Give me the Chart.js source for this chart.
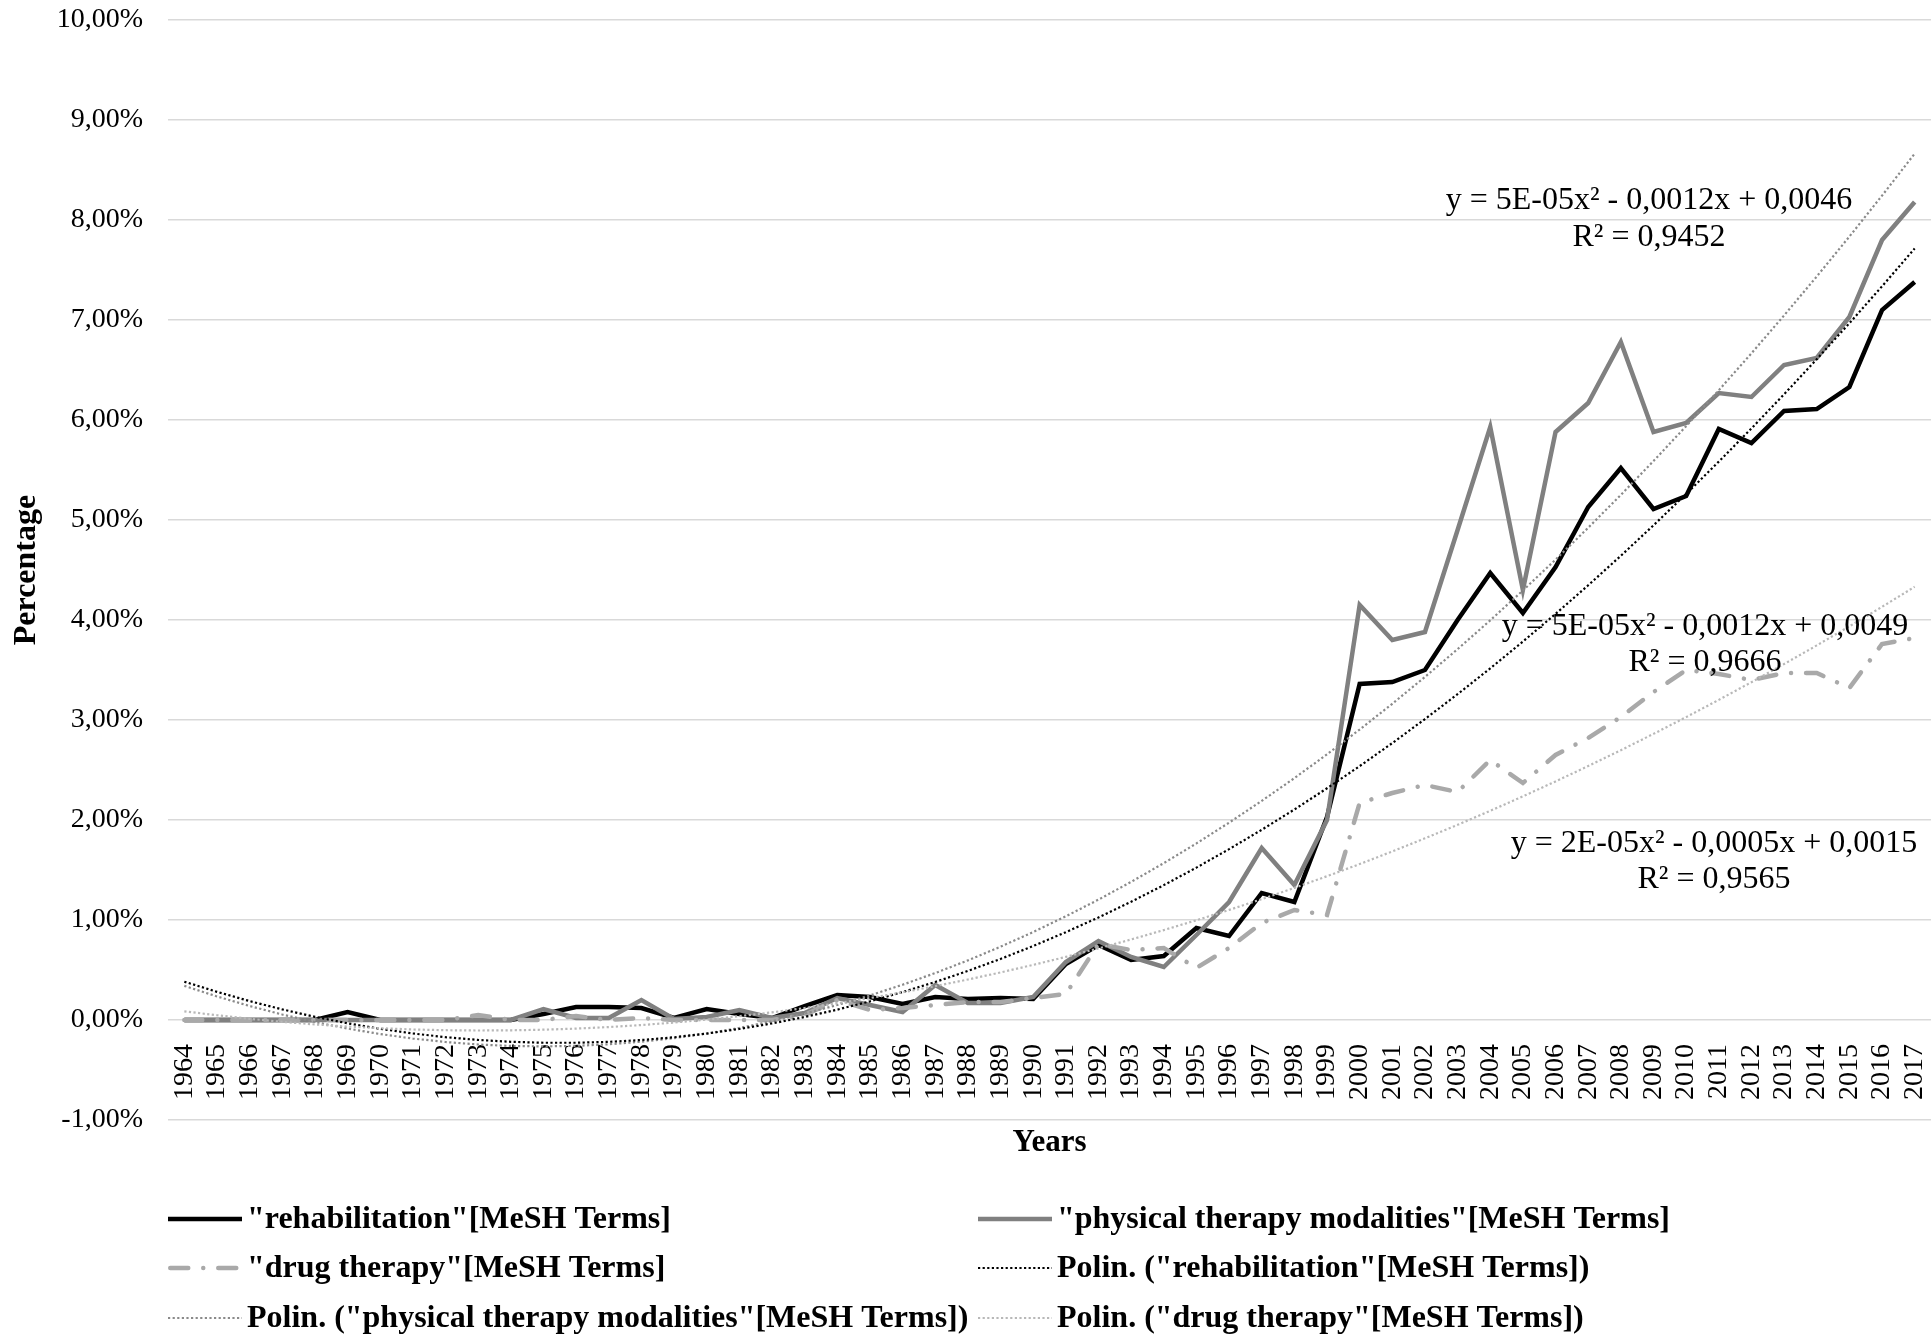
<!DOCTYPE html>
<html>
<head>
<meta charset="utf-8">
<title>MeSH Terms – percentage by year</title>
<script src="https://cdn.jsdelivr.net/npm/chart.js@4.4.1/dist/chart.umd.min.js"></script>
<style>
  html, body { margin: 0; padding: 0; background: #ffffff; }
  #wrap { width: 1931px; height: 1337px; }
</style>
</head>
<body>
<div id="wrap"><canvas id="chart" width="1931" height="1337"></canvas></div>
<script>
// ---- data (percent of publications per year) ----
const years = ['1964','1965','1966','1967','1968','1969','1970','1971','1972','1973',
  '1974','1975','1976','1977','1978','1979','1980','1981','1982','1983',
  '1984','1985','1986','1987','1988','1989','1990','1991','1992','1993',
  '1994','1995','1996','1997','1998','1999','2000','2001','2002','2003',
  '2004','2005','2006','2007','2008','2009','2010','2011','2012','2013',
  '2014','2015','2016','2017'];

const rehabilitation = [0, 0, 0, 0, 0, 0.08, 0, 0, 0, 0,
  0, 0.06, 0.13, 0.13, 0.12, 0.02, 0.11, 0.06, 0.02, 0.14,
  0.25, 0.23, 0.16, 0.23, 0.21, 0.22, 0.21, 0.56, 0.75, 0.60,
  0.64, 0.92, 0.84, 1.27, 1.18, 2.03, 3.36, 3.38, 3.50, 4.00,
  4.47, 4.07, 4.53, 5.13, 5.52, 5.11, 5.24, 5.91, 5.77, 6.09,
  6.11, 6.33, 7.10, 7.38];

const physicalTherapy = [0, 0, 0, 0, 0, 0, 0, 0, 0, 0,
  0, 0.11, 0.02, 0.02, 0.20, 0.01, 0.03, 0.10, 0.02, 0.07,
  0.22, 0.15, 0.08, 0.35, 0.17, 0.17, 0.23, 0.58, 0.79, 0.63,
  0.53, 0.85, 1.18, 1.72, 1.35, 2.00, 4.15, 3.80, 3.88, 4.90,
  5.93, 4.30, 5.88, 6.17, 6.78, 5.88, 5.97, 6.27, 6.23, 6.55,
  6.62, 7.03, 7.80, 8.18];

const drugTherapy = [0, 0, 0, 0, 0, 0, 0, 0, 0, 0.05,
  0, 0, 0.04, 0, 0.02, 0, 0, 0, 0, 0.05,
  0.20, 0.10, 0.12, 0.15, 0.18, 0.18, 0.22, 0.26, 0.76, 0.70,
  0.72, 0.52, 0.72, 0.97, 1.10, 1.05, 2.17, 2.27, 2.35, 2.28,
  2.60, 2.37, 2.65, 2.82, 3.03, 3.28, 3.50, 3.46, 3.40, 3.47,
  3.47, 3.32, 3.76, 3.82];

const seriesLabels = ['"rehabilitation"[MeSH Terms]', '"physical therapy modalities"[MeSH Terms]', '"drug therapy"[MeSH Terms]'];
const trendLabels = ['Polin. ("rehabilitation"[MeSH Terms])', 'Polin. ("physical therapy modalities"[MeSH Terms])', 'Polin. ("drug therapy"[MeSH Terms])'];

// trendline equations as printed next to each curve
const equationTexts = [
  ['y = 5E-05x\u00B2 - 0,0012x + 0,0046', 'R\u00B2 = 0,9452'],
  ['y = 5E-05x\u00B2 - 0,0012x + 0,0049', 'R\u00B2 = 0,9666'],
  ['y = 2E-05x\u00B2 - 0,0005x + 0,0015', 'R\u00B2 = 0,9565']
];

const yMin = -1, yMax = 10, yStep = 1;

// ---- styling ----
const SERIF = '"Liberation Serif", "Times New Roman", Times, serif';
const equationAnchors = [ {x: 1649, y: 201, dy: 37}, {x: 1705, y: 627, dy: 36}, {x: 1714, y: 844, dy: 36} ];
const legendLayout = { cols: [168, 978], rows: [1219, 1268, 1318], sample: 74, gap: 5 };

// second-order least-squares polynomial (x = 1..n), as a spreadsheet trendline does
function quadraticTrend(values) {
  const S = [0, 0, 0, 0, 0], T = [0, 0, 0];
  values.forEach((v, i) => {
    const x = i + 1;
    let p = 1;
    for (let k = 0; k < 5; k++) {
      S[k] += p;
      if (k < 3) T[k] += p * v;
      p *= x;
    }
  });
  const M = [
    [S[4], S[3], S[2], T[2]],
    [S[3], S[2], S[1], T[1]],
    [S[2], S[1], S[0], T[0]]
  ];
  for (let c = 0; c < 3; c++) {
    for (let r = c + 1; r < 3; r++) {
      const f = M[r][c] / M[c][c];
      for (let k = c; k < 4; k++) M[r][k] -= f * M[c][k];
    }
  }
  const sol = [0, 0, 0];
  for (let r = 2; r >= 0; r--) {
    let s = M[r][3];
    for (let k = r + 1; k < 3; k++) s -= M[r][k] * sol[k];
    sol[r] = s / M[r][r];
  }
  const [a, b, c] = sol;
  return values.map((_, i) => a * (i + 1) * (i + 1) + b * (i + 1) + c);
}

const fmtPct = v => v.toFixed(2).replace('.', ',') + '%';

const datasets = [
  { label: seriesLabels[0], data: rehabilitation, borderColor: '#000000', borderWidth: 4.5, order: 6 },
  { label: seriesLabels[1], data: physicalTherapy, borderColor: '#808080', borderWidth: 4.5, order: 5 },
  { label: seriesLabels[2], data: drugTherapy, borderColor: '#a9a9a9', borderWidth: 4.5,
    borderDash: [18, 15, 0.01, 15], borderCapStyle: 'round', order: 4 },
  { label: trendLabels[0], data: quadraticTrend(rehabilitation), borderColor: '#000000', borderWidth: 2.2,
    borderDash: [2.2, 2.4], order: 2 },
  { label: trendLabels[1], data: quadraticTrend(physicalTherapy), borderColor: '#8a8a8a', borderWidth: 2.2,
    borderDash: [2.2, 2.4], order: 3 },
  { label: trendLabels[2], data: quadraticTrend(drugTherapy), borderColor: '#b8b8b8', borderWidth: 2.2,
    borderDash: [2.2, 2.4], order: 1 }
].map(d => Object.assign({ pointRadius: 0, pointHoverRadius: 0, tension: 0, fill: false, backgroundColor: d.borderColor }, d));

// legend in two columns, trendline equations and the category axis title
const decorations = {
  id: 'decorations',
  afterDraw(chart) {
    const ctx = chart.ctx;
    const area = chart.chartArea;
    ctx.save();

    // "Years" under the category labels
    ctx.fillStyle = '#000';
    ctx.font = 'bold 31px ' + SERIF;
    ctx.textAlign = 'center';
    ctx.textBaseline = 'middle';
    ctx.fillText('Years', (area.left + area.right) / 2, 1143);

    // equations
    ctx.font = '32px ' + SERIF;
    equationTexts.forEach((lines, i) => {
      const a = equationAnchors[i];
      lines.forEach((t, j) => ctx.fillText(t, a.x, a.y + j * a.dy));
    });

    // legend
    ctx.font = 'bold 32px ' + SERIF;
    ctx.textAlign = 'left';
    chart.data.datasets.forEach((ds, i) => {
      const x = legendLayout.cols[i % 2];
      const y = legendLayout.rows[Math.floor(i / 2)];
      ctx.save();
      ctx.strokeStyle = ds.borderColor;
      ctx.lineWidth = ds.borderWidth;
      ctx.lineCap = ds.borderCapStyle || 'butt';
      ctx.setLineDash(ds.borderDash || []);
      ctx.beginPath();
      const inset = ds.borderCapStyle === 'round' ? ds.borderWidth / 2 : 0;
      ctx.moveTo(x + inset, y);
      ctx.lineTo(x + legendLayout.sample - inset, y);
      ctx.stroke();
      ctx.restore();
      ctx.fillText(ds.label, x + legendLayout.sample + legendLayout.gap, y + 1);
    });
    ctx.restore();
  }
};

new Chart(document.getElementById('chart'), {
  type: 'line',
  data: { labels: years, datasets },
  options: {
    responsive: false,
    animation: false,
    devicePixelRatio: 1,
    layout: { padding: { top: 20, right: 0, bottom: 217, left: 0 } },
    plugins: { legend: { display: false }, tooltip: { enabled: false } },
    scales: {
      x: {
        type: 'category',
        position: { y: 0 },
        offset: true,
        grid: { display: false },
        border: { display: false },
        ticks: {
          autoSkip: false, minRotation: 90, maxRotation: 90, padding: 16,
          color: '#000', font: { family: SERIF, size: 28 }
        },
        afterFit(scale) { scale.paddingLeft = 0; scale.paddingRight = 0; }
      },
      y: {
        min: yMin, max: yMax,
        ticks: {
          stepSize: yStep, padding: 25, color: '#000',
          font: { family: SERIF, size: 28 },
          callback: v => fmtPct(v)
        },
        grid: { color: '#d9d9d9', lineWidth: 1.6, drawTicks: false },
        border: { display: false },
        title: {
          display: true, text: 'Percentage', color: '#000',
          font: { family: SERIF, size: 32, weight: 'bold' },
          padding: { top: 8, bottom: 0 }
        },
        afterFit(scale) { scale.width = 168; scale.paddingTop = 0; scale.paddingBottom = 0; }
      }
    }
  },
  plugins: [decorations]
});
</script>
</body>
</html>
